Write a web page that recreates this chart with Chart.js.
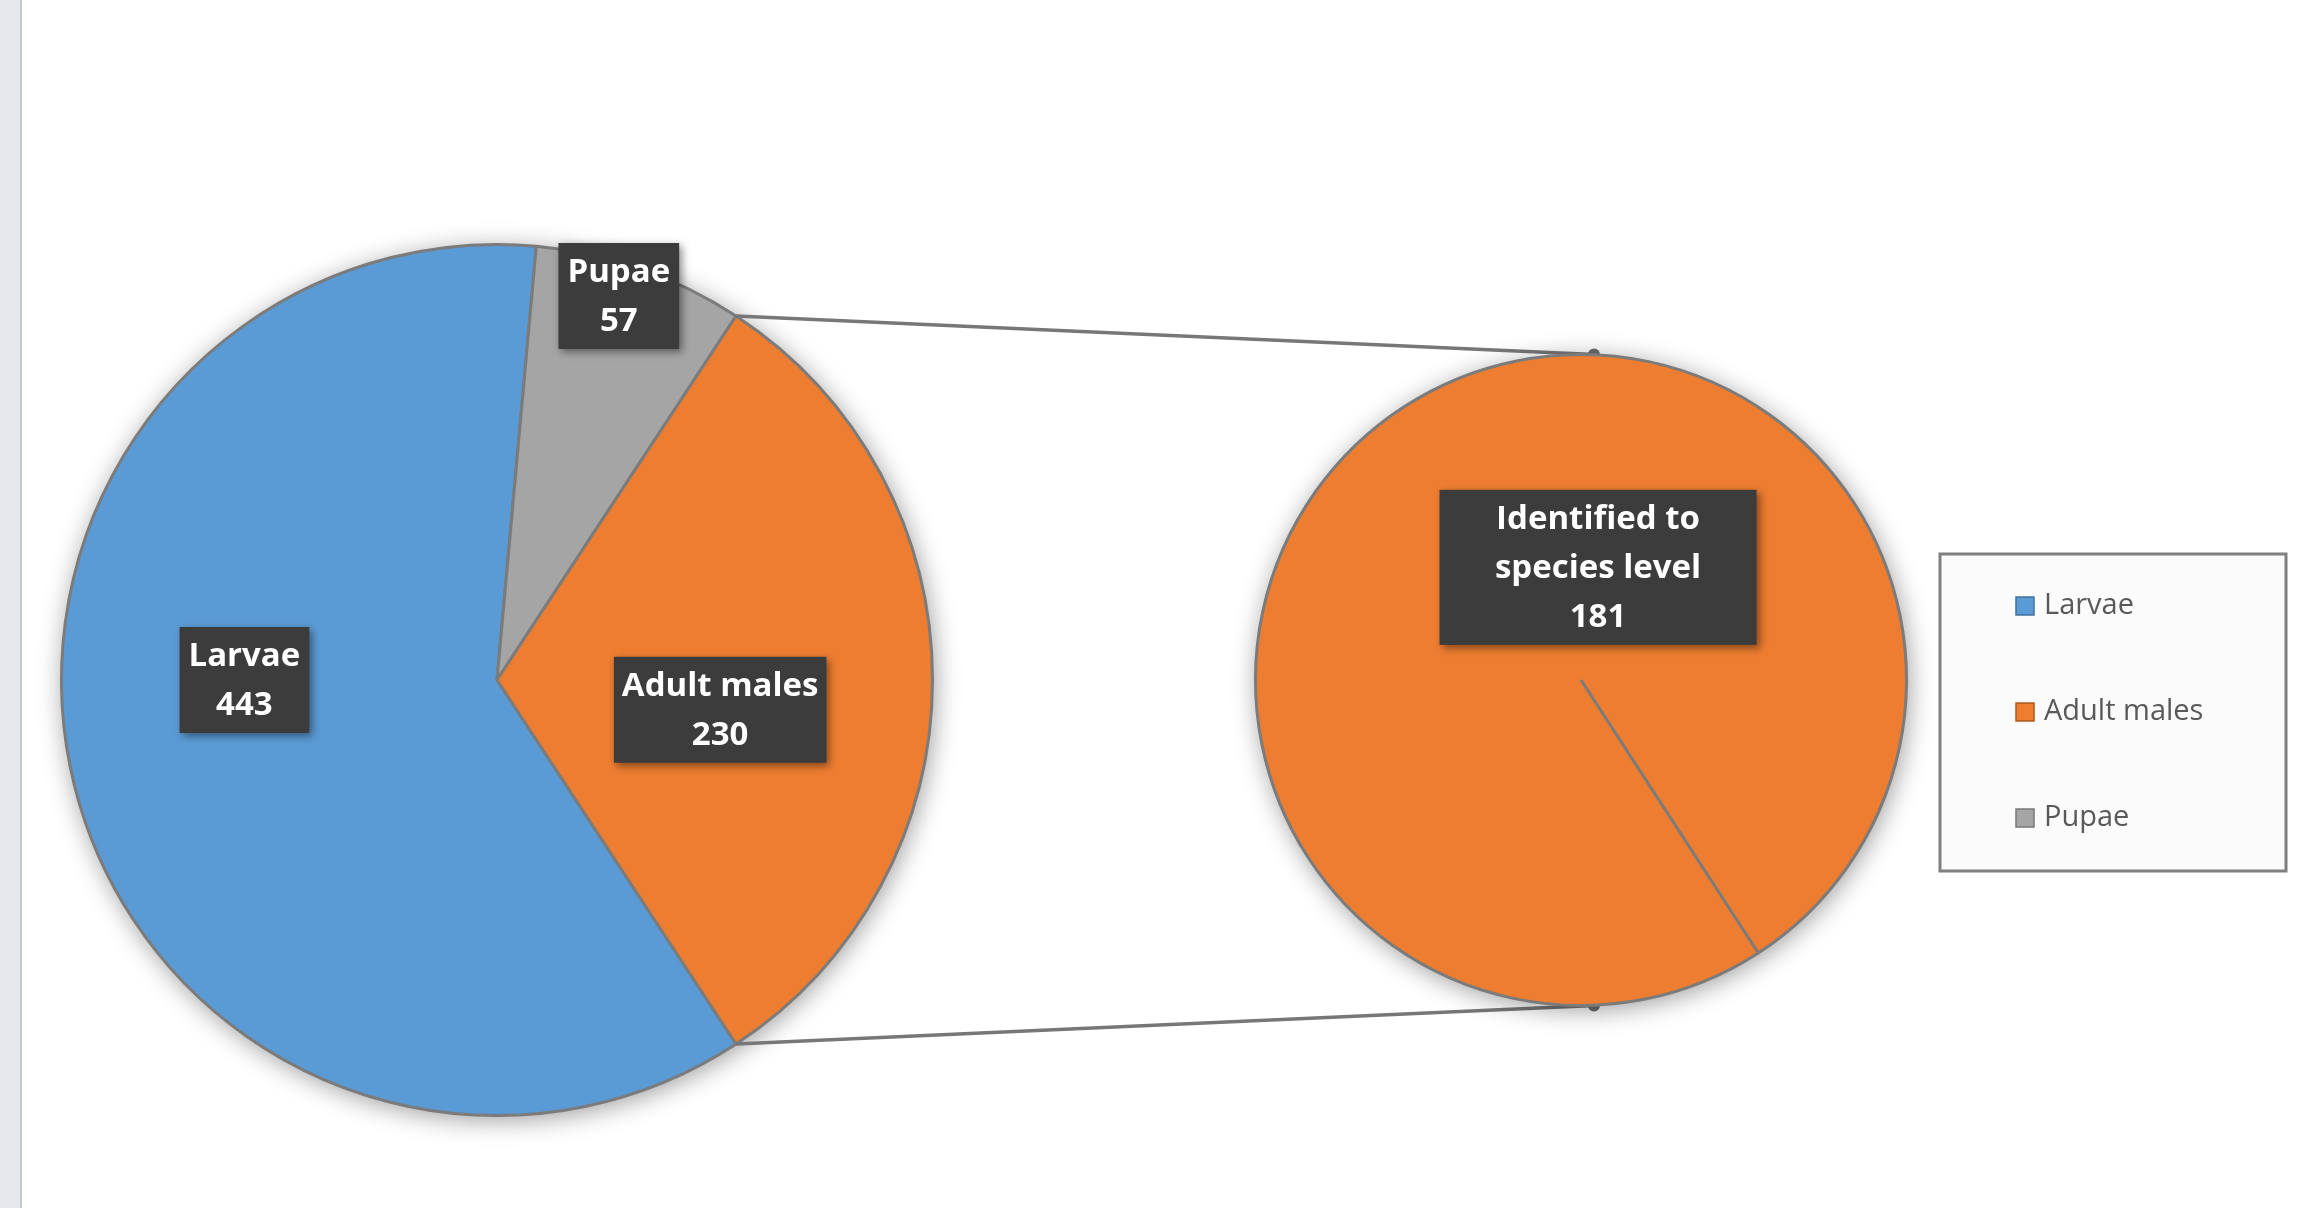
<!DOCTYPE html>
<html><head><meta charset="utf-8">
<script src="https://cdn.jsdelivr.net/npm/chart.js@4.4.1/dist/chart.umd.min.js"></script>
<style>
html,body{margin:0;padding:0;background:#fff;width:2304px;height:1208px;overflow:hidden;}
#strip{position:absolute;left:0;top:0;width:20px;height:1208px;background:#e6e7eb;border-right:2px solid #c6c7ca;}
canvas{position:absolute;left:0;top:0;}
</style></head><body>
<div id="strip"></div>
<canvas id="main" width="2304" height="1208"></canvas>
<canvas id="sub" width="2304" height="1208"></canvas>
<script>
// ---- data ----
const categories = ['Larvae', 'Adult males', 'Pupae'];
const counts = [443, 230, 57];
const colors = ['#5b9bd5', '#ed7d31', '#a5a5a5'];
const legendBorders = ['#41719c', '#ae5a21', '#787878'];
const drawOrder = ['Larvae', 'Pupae', 'Adult males']; // clockwise in the main pie
const splitCategory = 'Adult males';
const subLabels = ['Identified to species level'];
const subCounts = [181];

// ---- helpers ----
const idx = drawOrder.map(c => categories.indexOf(c));
const total = counts.reduce((a, b) => a + b, 0);
const splitShare = counts[categories.indexOf(splitCategory)] / total;
const LABEL_FONT = 'bold 33px "Open Sans"';
const LINE_H = 49;

function shadowPlugin(id) {
  return {
    id: id,
    beforeDatasetsDraw(chart) {
      const el = chart.getDatasetMeta(0).data[0];
      const p = el.getProps(['x', 'y', 'outerRadius'], true);
      const ctx = chart.ctx;
      ctx.save();
      ctx.shadowColor = 'rgba(0,0,0,0.4)';
      ctx.shadowBlur = 26;
      ctx.shadowOffsetX = 2;
      ctx.shadowOffsetY = 4;
      ctx.fillStyle = '#ffffff';
      ctx.beginPath();
      ctx.arc(p.x, p.y, p.outerRadius, 0, Math.PI * 2);
      ctx.fill();
      ctx.restore();
    }
  };
}

function wrap(ctx, text, maxW) {
  const words = text.split(' ');
  const lines = [];
  let cur = '';
  for (const w of words) {
    const t = cur ? cur + ' ' + w : w;
    if (ctx.measureText(t).width > maxW && cur) { lines.push(cur); cur = w; } else cur = t;
  }
  if (cur) lines.push(cur);
  return lines;
}

function drawLabel(ctx, cx, cy, lines, padX) {
  ctx.save();
  ctx.font = LABEL_FONT;
  const w = Math.max(...lines.map(l => ctx.measureText(l).width)) + padX * 2;
  const h = lines.length * LINE_H + 8;
  ctx.shadowColor = 'rgba(0,0,0,0.45)';
  ctx.shadowBlur = 8;
  ctx.shadowOffsetX = 3;
  ctx.shadowOffsetY = 3;
  ctx.fillStyle = '#3c3c3c';
  ctx.fillRect(cx - w / 2, cy - h / 2, w, h);
  ctx.shadowColor = 'transparent';
  ctx.fillStyle = '#ffffff';
  ctx.textAlign = 'center';
  ctx.textBaseline = 'middle';
  lines.forEach((l, i) => {
    ctx.fillText(l, cx, cy - h / 2 + 4 + LINE_H * (i + 0.5) + 1);
  });
  ctx.restore();
}

function anchor(p, angleDeg, frac) {
  const a = angleDeg == null ? (p.startAngle + p.endAngle) / 2 : (angleDeg - 90) * Math.PI / 180;
  return [p.x + Math.cos(a) * p.outerRadius * frac, p.y + Math.sin(a) * p.outerRadius * frac];
}

// ---- main pie ----
const main = new Chart(document.getElementById('main'), {
  type: 'pie',
  data: {
    labels: idx.map(i => categories[i]),
    datasets: [{
      data: idx.map(i => counts[i]),
      backgroundColor: idx.map(i => colors[i]),
      borderColor: '#7b7b7b',
      borderWidth: 3
    }]
  },
  options: {
    responsive: false,
    animation: false,
    events: [],
    rotation: 90 + 180 * splitShare,
    layout: { padding: { left: 60, top: 243, right: 1370, bottom: 91 } },
    plugins: { legend: { display: false }, tooltip: { enabled: false } }
  },
  plugins: [shadowPlugin('mainShadow')]
});

// ---- overlay: connectors, labels, legend ----
const overlay = {
  id: 'overlay',
  beforeDatasetsDraw(chart) {
    const ctx = chart.ctx;
    const split = main.getDatasetMeta(0).data[drawOrder.indexOf(splitCategory)]
      .getProps(['x', 'y', 'startAngle', 'endAngle', 'outerRadius'], true);
    const sp = chart.getDatasetMeta(0).data[0].getProps(['x', 'y', 'outerRadius'], true);
    const a1 = [split.x + Math.cos(split.startAngle) * split.outerRadius, split.y + Math.sin(split.startAngle) * split.outerRadius];
    const a2 = [split.x + Math.cos(split.endAngle) * split.outerRadius, split.y + Math.sin(split.endAngle) * split.outerRadius];
    const b1 = [sp.x + 13, sp.y - sp.outerRadius];
    const b2 = [sp.x + 13, sp.y + sp.outerRadius];
    ctx.save();
    ctx.strokeStyle = '#777777';
    ctx.lineWidth = 3.5;
    ctx.beginPath();
    ctx.moveTo(a1[0], a1[1]); ctx.lineTo(b1[0], b1[1]);
    ctx.moveTo(a2[0], a2[1]); ctx.lineTo(b2[0], b2[1]);
    ctx.stroke();
    ctx.fillStyle = '#6e6e6e';
    [b1, b2].forEach(b => { ctx.beginPath(); ctx.arc(b[0], b[1], 6, 0, Math.PI * 2); ctx.fill(); });
    ctx.restore();
  },
  afterDraw(chart) {
    const ctx = chart.ctx;
    ctx.save();
    ctx.font = LABEL_FONT;
    const mainMeta = main.getDatasetMeta(0);
    const place = { 'Larvae': [270, 0.58, 9], 'Adult males': [97.6, 0.517, 8], 'Pupae': [17.6, 0.925, 9] };
    drawOrder.forEach((cat, k) => {
      const p = mainMeta.data[k].getProps(['x', 'y', 'startAngle', 'endAngle', 'outerRadius'], true);
      const [ang, frac, padX] = place[cat];
      const [cx, cy] = anchor(p, ang, frac);
      drawLabel(ctx, cx, cy, [cat, String(counts[categories.indexOf(cat)])], padX);
    });
    const subMeta = chart.getDatasetMeta(0);
    subLabels.forEach((lab, k) => {
      const p = subMeta.data[k].getProps(['x', 'y', 'startAngle', 'endAngle', 'outerRadius'], true);
      const [cx, cy] = anchor(p, 8.6, 0.35);
      const lines = wrap(ctx, lab, 260).concat([String(subCounts[k])]);
      const tw = Math.max(...lines.map(l => ctx.measureText(l).width));
      drawLabel(ctx, cx, cy, lines, Math.max(10, (317 - tw) / 2));
    });
    ctx.restore();

    // legend
    ctx.save();
    const lx = 1940, ly = 554, lw = 346, lh = 317;
    ctx.fillStyle = '#fbfbfb';
    ctx.fillRect(lx, ly, lw, lh);
    ctx.strokeStyle = '#7f7f7f';
    ctx.lineWidth = 3;
    ctx.strokeRect(lx, ly, lw, lh);
    ctx.font = '29px "Open Sans"';
    ctx.textBaseline = 'middle';
    categories.forEach((c, i) => {
      const y = 606 + i * 106;
      ctx.fillStyle = colors[i];
      ctx.fillRect(2016, y - 9, 18, 18);
      ctx.strokeStyle = legendBorders[i];
      ctx.lineWidth = 1.5;
      ctx.strokeRect(2016, y - 9, 18, 18);
      ctx.fillStyle = '#595959';
      ctx.fillText(c, 2044, y);
    });
    ctx.restore();
  }
};

// ---- secondary pie ----
const sub = new Chart(document.getElementById('sub'), {
  type: 'pie',
  data: {
    labels: subLabels,
    datasets: [{
      data: subCounts,
      backgroundColor: [colors[categories.indexOf(splitCategory)]],
      borderColor: '#7b7b7b',
      borderWidth: 3
    }]
  },
  options: {
    responsive: false,
    animation: false,
    events: [],
    rotation: 147,
    layout: { padding: { left: 1254, top: 353, right: 396, bottom: 201 } },
    plugins: { legend: { display: false }, tooltip: { enabled: false } }
  },
  plugins: [overlay, shadowPlugin('subShadow')]
});
</script>
</body></html>
